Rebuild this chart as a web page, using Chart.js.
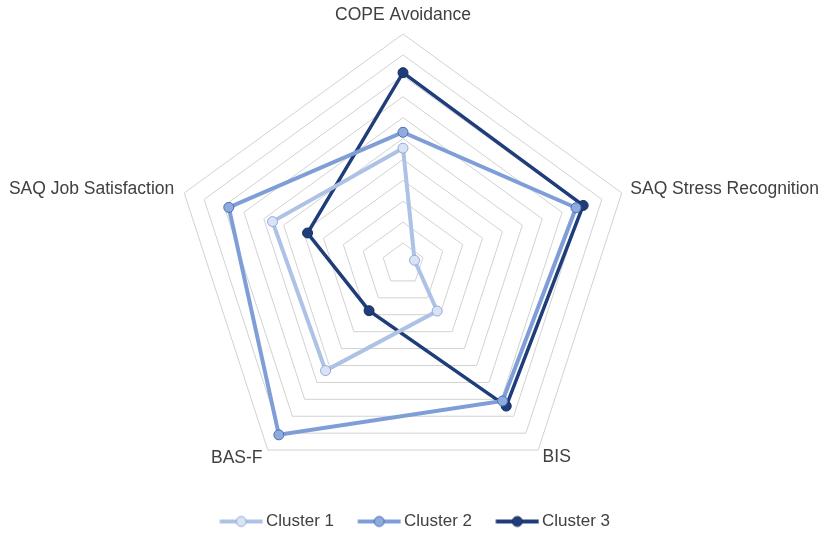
<!DOCTYPE html>
<html>
<head>
    <title>Cluster Radar</title>
    <script src="https://cdn.jsdelivr.net/npm/chart.js"></script>
    <style>
        body { margin: 0; background: #fff; }
        #wrap { width: 829px; height: 536px; }
    </style>
</head>
<body>
    <div id="wrap"><canvas id="radarChart"></canvas></div>
    <script>
        // axes, clockwise from the top
        const axisLabels = ["COPE Avoidance", "SAQ Stress Recognition", "BIS", "BAS-F", "SAQ Job Satisfaction"];

        // values (one unit = one grid ring)
        const cluster1 = [5.54, 0.58, 2.78, 6.3, 6.56];
        const cluster2 = [6.3, 8.7, 8.1, 10.1, 8.76];
        const cluster3 = [9.15, 9.06, 8.4, 2.76, 4.8];

        const seriesNames = ["Cluster 1", "Cluster 2", "Cluster 3"];

        // gap between each axis label and its pentagon corner
        const labelGap = [17.5, 9, 7.5, 9, 10.5];

        const styles = [
            { line: "#adc2e5", fill: "#dae3f3", border: "#8faadc", width: 4 },
            { line: "#7f9ed8", fill: "#8faadc", border: "#4a6fb8", width: 4 },
            { line: "#1f3d7a", fill: "#1f3d7a", border: "#172f60", width: 3.5 }
        ];
        const values = [cluster1, cluster2, cluster3];

        // legend marker: line with a dot in the middle (left part transparent)
        function legendMarker(s) {
            const c = document.createElement("canvas");
            c.width = 68; c.height = 14;
            const g = c.getContext("2d");
            g.strokeStyle = s.line;
            g.lineWidth = 4;
            g.beginPath(); g.moveTo(24.5, 7); g.lineTo(67.5, 7); g.stroke();
            g.fillStyle = s.fill;
            g.strokeStyle = s.border;
            g.lineWidth = 1;
            g.beginPath(); g.arc(46, 7, 5, 0, Math.PI * 2); g.fill(); g.stroke();
            return c;
        }

        // plot centre and radius as in the picture
        function placeScale(scale) {
            scale.setCenterPoint = function () {
                this.xCenter = 403;
                this.yCenter = 264;
                this.drawingArea = 230;
            };
        }

        const ctx = document.getElementById("radarChart").getContext("2d");
        new Chart(ctx, {
            type: "radar",
            data: {
                labels: axisLabels,
                datasets: seriesNames.map((name, i) => ({
                    label: name,
                    data: values[i],
                    borderColor: styles[i].line,
                    borderWidth: styles[i].width,
                    backgroundColor: "transparent",
                    fill: false,
                    pointRadius: 5,
                    pointBorderWidth: 1,
                    pointBackgroundColor: styles[i].fill,
                    pointBorderColor: styles[i].border,
                    tension: 0
                }))
            },
            options: {
                responsive: true,
                maintainAspectRatio: false,
                animation: false,
                layout: { padding: { top: 0, left: 0, right: 18, bottom: -4 } },
                plugins: {
                    legend: {
                        position: "bottom",
                        labels: {
                            usePointStyle: true,
                            pointStyleWidth: 56.5,
                            padding: 5,
                            color: "#404040",
                            font: { family: "Liberation Sans, Arial", size: 17 },
                            generateLabels: chart => chart.data.datasets.map((ds, i) => ({
                                text: ds.label,
                                pointStyle: legendMarker(styles[i]),
                                fillStyle: styles[i].fill,
                                strokeStyle: styles[i].line,
                                lineWidth: 0,
                                fontColor: "#404040",
                                datasetIndex: i,
                                hidden: false
                            }))
                        }
                    },
                    tooltip: { enabled: false }
                },
                scales: {
                    r: {
                        min: 0,
                        max: 11,
                        beforeFit: placeScale,
                        ticks: { stepSize: 1, display: false },
                        grid: { color: "#d2d2d2", lineWidth: 1 },
                        angleLines: { display: false },
                        pointLabels: {
                            color: "#404040",
                            padding: c => labelGap[c.index],
                            font: { family: "Liberation Sans, Arial", size: 17.5, lineHeight: 0.1 }
                        }
                    }
                }
            }
        });
    </script>
</body>
</html>
